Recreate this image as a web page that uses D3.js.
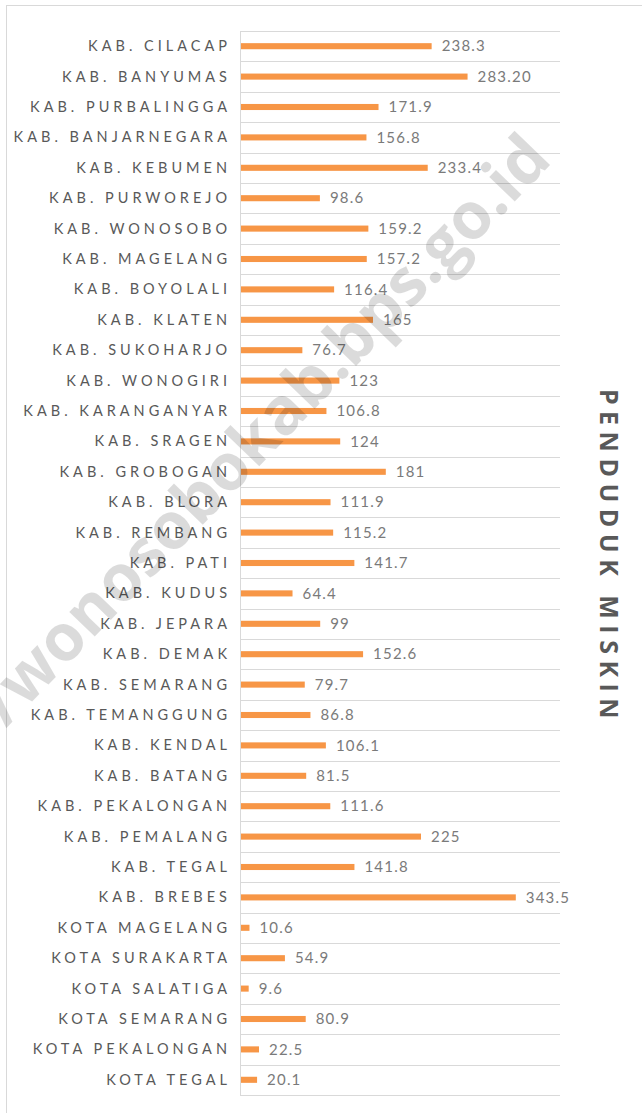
<!DOCTYPE html>
<html>
<head>
<meta charset="utf-8">
<script src="https://cdn.jsdelivr.net/npm/d3@7"></script>
<style>
  body { margin: 0; background: #fff; }
</style>
</head>
<body>
<script>
const width = 642,
      height = 1113;

// data
const categories = ["KAB. CILACAP", "KAB. BANYUMAS", "KAB. PURBALINGGA", "KAB. BANJARNEGARA",
  "KAB. KEBUMEN", "KAB. PURWOREJO", "KAB. WONOSOBO", "KAB. MAGELANG", "KAB. BOYOLALI",
  "KAB. KLATEN", "KAB. SUKOHARJO", "KAB. WONOGIRI", "KAB. KARANGANYAR", "KAB. SRAGEN",
  "KAB. GROBOGAN", "KAB. BLORA", "KAB. REMBANG", "KAB. PATI", "KAB. KUDUS", "KAB. JEPARA",
  "KAB. DEMAK", "KAB. SEMARANG", "KAB. TEMANGGUNG", "KAB. KENDAL", "KAB. BATANG",
  "KAB. PEKALONGAN", "KAB. PEMALANG", "KAB. TEGAL", "KAB. BREBES", "KOTA MAGELANG",
  "KOTA SURAKARTA", "KOTA SALATIGA", "KOTA SEMARANG", "KOTA PEKALONGAN", "KOTA TEGAL"];

const values = [238.3, 283.2, 171.9, 156.8, 233.4, 98.6, 159.2, 157.2, 116.4, 165, 76.7, 123,
  106.8, 124, 181, 111.9, 115.2, 141.7, 64.4, 99, 152.6, 79.7, 86.8, 106.1, 81.5, 111.6,
  225, 141.8, 343.5, 10.6, 54.9, 9.6, 80.9, 22.5, 20.1];

const valueLabels = ["238.3", "283.20", "171.9", "156.8", "233.4", "98.6", "159.2", "157.2",
  "116.4", "165", "76.7", "123", "106.8", "124", "181", "111.9", "115.2", "141.7", "64.4",
  "99", "152.6", "79.7", "86.8", "106.1", "81.5", "111.6", "225", "141.8", "343.5", "10.6",
  "54.9", "9.6", "80.9", "22.5", "20.1"];

const xDomain = [0, 400];
const title = "PENDUDUK MISKIN";
const watermark = "http://wonosobokab.bps.go.id";

const rows = categories.map((c, i) => ({ name: c, value: values[i], label: valueLabels[i] }));

const svg = d3.select("body")
    .append("svg")
    .attr("width", width)
    .attr("height", height);

// outer chart border
svg.append("rect")
    .attr("x", 6.5)
    .attr("y", 5.5)
    .attr("width", 700)
    .attr("height", 1200)
    .attr("fill", "#fff")
    .attr("stroke", "#d9d9d9");

const x = d3.scaleLinear()
    .domain(xDomain)
    .range([240, 560]);

const y = d3.scaleBand()
    .domain(categories)
    .range([31, 1095])
    .paddingInner(0.8)
    .paddingOuter(0.4);

const step = y.step();

// horizontal grid lines between categories
const grid = svg.append("g").attr("class", "grid");
grid.selectAll("line")
    .data(d3.range(categories.length + 1))
    .enter().append("line")
    .attr("x1", x(0))
    .attr("x2", x(xDomain[1]))
    .attr("y1", i => Math.round(y.range()[0] + i * step) + 0.5)
    .attr("y2", i => Math.round(y.range()[0] + i * step) + 0.5)
    .attr("stroke", "#d9d9d9")
    .attr("stroke-width", 1);

// vertical axis line
svg.append("line")
    .attr("x1", x(0) + 0.5)
    .attr("x2", x(0) + 0.5)
    .attr("y1", y.range()[0])
    .attr("y2", y.range()[1])
    .attr("stroke", "#d9d9d9");

// bars
svg.append("g")
    .selectAll("rect")
    .data(rows)
    .enter().append("rect")
    .attr("x", x(0) + 1)
    .attr("y", d => y(d.name))
    .attr("width", d => x(d.value) - x(0))
    .attr("height", y.bandwidth())
    .attr("fill", "#f79646");

// category labels
svg.append("g")
    .selectAll("text")
    .data(rows)
    .enter().append("text")
    .attr("x", 231)
    .attr("y", d => y(d.name) + y.bandwidth() / 2)
    .attr("dy", "0.35em")
    .attr("text-anchor", "end")
    .style("font-family", "Lato, 'Open Sans', sans-serif")
    .style("font-size", "14.5px")
    .style("letter-spacing", "4px")
    .attr("fill", "#595959")
    .text(d => d.name);

// value labels
svg.append("g")
    .selectAll("text")
    .data(rows)
    .enter().append("text")
    .attr("x", d => x(d.value) + 11)
    .attr("y", d => y(d.name) + y.bandwidth() / 2)
    .attr("dy", "0.35em")
    .style("font-family", "Lato, 'Open Sans', sans-serif")
    .style("font-size", "15px")
    .style("letter-spacing", "1.2px")
    .attr("fill", "#7a7a7a")
    .text(d => d.label);

// right side title
svg.append("text")
    .attr("transform", "translate(600,557) rotate(90)")
    .attr("text-anchor", "middle")
    .style("font-family", "'Open Sans', sans-serif")
    .style("font-size", "25px")
    .style("font-weight", "bold")
    .style("letter-spacing", "6.5px")
    .attr("fill", "#595959")
    .text(title);

// watermark (runs off the left edge, as in the original)
svg.append("text")
    .attr("transform", "translate(199,496) rotate(-46)")
    .attr("text-anchor", "middle")
    .attr("dy", "0.35em")
    .style("font-family", "'Open Sans', sans-serif")
    .style("font-size", "65px")
    .style("font-weight", "bold")
    .attr("fill", "#000")
    .attr("fill-opacity", 0.14)
    .text(watermark);
</script>
</body>
</html>
